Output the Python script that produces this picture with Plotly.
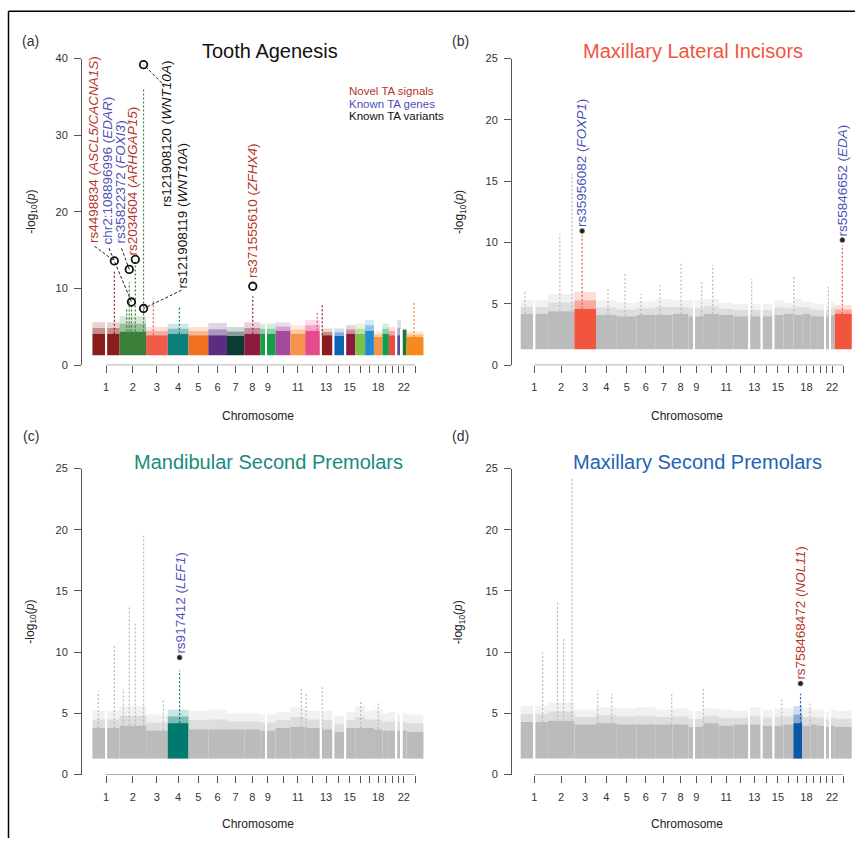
import plotly.graph_objects as go

W, H = 855, 844
FONT = "Liberation Sans, Arial, Helvetica, sans-serif"

# ---------------- data ----------------
chrom_names = [str(i) for i in range(1, 23)] + ["X"]
chrom_len_mb = [249, 243, 198, 191, 181, 171, 159, 146, 141, 136, 135, 134,
                115, 107, 103, 90, 81, 78, 59, 63, 48, 51, 155]
tick_text = ["1", "2", "3", "4", "5", "6", "7", "8", "9", " ", "11", " ", "13", " ",
             "15", " ", " ", "18", " ", " ", " ", "22", " "]

# panel (a) chromosome colours
colors_a = ["#8C1C1C", "#3A7F3A", "#F05A48", "#0E7F7C", "#F37021", "#5C2D7F",
            "#0A3B35", "#8E1A3D", "#15A048", "#A24A9E", "#F7924A", "#E6498C",
            "#8C1C1C", "#0D62B3", "#8C1A3A", "#7BC143", "#1E8AD2", "#F7924A",
            "#10A04A", "#EE4B3C", "#5D4B9F", "#1A7A3E", "#F58A1F"]
gray = "#BBBBBB"

# unplotted (empty) regions: chromosome, from Mb, to Mb
gap_chrom = ["1", "9", "13", "14", "15", "21", "22"]
gap_from_mb = [121, 47, 0, 0, 0, 0, 0]
gap_to_mb = [135, 60, 19, 19, 20, 14, 16]

# dense band top and sparse top (-log10 p) per chromosome
dense_a = [4.1, 4.4, 3.9, 4.1, 3.9, 3.9, 3.8, 4.1, 4.1, 4.5, 4.1, 4.5,
           3.9, 3.8, 4.1, 4.1, 4.5, 3.7, 4.1, 3.9, 3.9, 4.6, 3.7]
sparse_a = [5.6, 6.4, 5.0, 5.4, 5.0, 5.5, 5.0, 5.6, 5.4, 5.6, 5.2, 5.9,
            4.8, 4.8, 5.2, 5.4, 5.9, 4.4, 5.4, 5.0, 5.9, 4.8, 4.4]
dense_b = [4.2, 4.4, 4.6, 4.1, 4.0, 4.1, 4.1, 4.2, 4.0, 4.2, 4.1, 4.0,
           4.0, 4.0, 4.1, 4.2, 4.1, 4.2, 4.0, 4.0, 4.0, 4.1, 4.2]
sparse_b = [5.3, 5.8, 6.0, 5.3, 5.1, 5.2, 5.4, 5.3, 5.3, 5.4, 5.1, 5.0,
            5.0, 5.0, 5.3, 5.1, 5.4, 5.2, 5.1, 5.0, 5.0, 5.2, 4.9]
dense_c = [3.8, 4.0, 3.6, 4.2, 3.7, 3.7, 3.7, 3.7, 3.6, 3.8, 3.9, 3.8,
           3.7, 3.5, 3.8, 3.8, 3.8, 3.7, 3.6, 3.6, 3.6, 3.6, 3.5]
sparse_c = [5.2, 5.6, 4.9, 5.3, 5.2, 5.3, 5.0, 5.0, 4.9, 5.1, 5.5, 5.2,
            5.2, 4.8, 5.1, 5.6, 5.2, 5.3, 5.0, 5.1, 5.0, 5.0, 4.9]
dense_d = [4.3, 4.4, 4.1, 4.2, 4.1, 4.1, 4.1, 4.1, 3.9, 4.2, 4.0, 4.1,
           4.1, 4.0, 4.0, 4.1, 4.2, 4.0, 4.1, 4.0, 3.9, 4.0, 3.9]
sparse_d = [5.6, 5.9, 5.3, 5.5, 5.4, 5.5, 5.3, 5.4, 5.2, 5.4, 5.3, 5.2,
            5.5, 5.3, 5.4, 5.4, 5.6, 5.4, 5.3, 5.3, 5.1, 5.3, 5.2]

# highlighted chromosomes in (b)-(d)
hl_b, hl_b_color = ["3", "X"], "#F1553D"
hl_c, hl_c_color = ["4"], "#00796E"
hl_d, hl_d_color = ["17"], "#0B57A8"

# peak columns: chromosome, position (Mb), max -log10 p
peak_a_chr = ["1", "2", "2", "2", "2", "2", "3", "4", "8", "12", "13", "X"]
peak_a_pos = [201.0, 65, 88.7, 108.9, 144.0, 219.7, 66, 107, 77.6, 110, 22, 69]
peak_a_val = [12.3, 7.5, 10.8, 8.0, 13.5, 36.0, 8.7, 7.7, 9.0, 6.8, 8.0, 8.2]

peak_b_chr = ["1", "2", "2", "3", "4", "5", "6", "7", "8", "9", "10", "13", "17", "21", "X"]
peak_b_pos = [39, 109.5, 219.7, 71.0, 110, 75, 40, 44, 78, 121, 81, 33, 5, 40, 69.0]
peak_b_val = [6.1, 10.7, 15.6, 10.6, 6.3, 7.5, 5.8, 6.5, 8.3, 6.9, 8.2, 7.0, 7.3, 6.4, 9.8]

peak_c_chr = ["1", "1", "2", "2", "2", "2", "3", "4", "11", "12", "13", "16", "18"]
peak_c_pos = [54, 201, 34, 88.7, 144, 219.7, 158, 109.0, 100, 10, 22, 50, 40]
peak_c_val = [6.8, 10.6, 7.0, 13.7, 12.5, 19.5, 6.2, 8.5, 7.1, 6.6, 7.2, 6.1, 5.8]

peak_d_chr = ["1", "2", "2", "2", "4", "4", "7", "9", "15", "17", "18"]
peak_d_pos = [200, 88.7, 144, 219.7, 16, 144, 151, 136, 86, 65.7, 72]
peak_d_val = [10.0, 14.2, 11.1, 24.2, 6.9, 6.6, 6.6, 7.0, 6.1, 6.6, 5.9]

# labelled SNPs
snp_a_chr = ["1", "2", "2", "2", "2", "2", "8"]
snp_a_pos = [201.0, 108.9, 88.7, 144.0, 219.7, 219.7, 77.6]
snp_a_val = [13.6, 8.25, 12.5, 13.8, 39.2, 7.4, 10.3]
snp_a_id = ["rs4498834", "chr2:108896996", "rs35822372", "rs2034604",
            "rs121908120", "rs121908119", "rs371555610"]
snp_a_gene = ["ASCL5/CACNA1S", "EDAR", "FOXI3", "ARHGAP15", "WNT10A", "WNT10A", "ZFHX4"]
snp_a_kind = ["novel", "gene", "gene", "novel", "variant", "variant", "novel"]

snp_b_chr, snp_b_pos, snp_b_val = ["3", "X"], [71.0, 69.0], [10.95, 10.2]
snp_b_id, snp_b_gene, snp_b_kind = ["rs35956082", "rs55846652"], ["FOXP1", "EDA"], ["gene", "gene"]
snp_c_chr, snp_c_pos, snp_c_val = ["4"], [109.0], [9.56]
snp_c_id, snp_c_gene, snp_c_kind = ["rs917412"], ["LEF1"], ["gene"]
snp_d_chr, snp_d_pos, snp_d_val = ["17"], [65.7], [7.43]
snp_d_id, snp_d_gene, snp_d_kind = ["rs758468472"], ["NOL11"], ["novel"]

kind_color = {"novel": "#B3352B", "gene": "#5050B5", "variant": "#111111"}

# ---------------- geometry ----------------
chrom_start = []
_s = 0
for L in chrom_len_mb:
    chrom_start.append(_s)
    _s += L
chrom_mid = [st + L / 2 for st, L in zip(chrom_start, chrom_len_mb)]


def gpos(ch, mb):
    return chrom_start[chrom_names.index(ch)] + mb


# the captured page is vertically squeezed slightly; map wanted pixel rows to layout rows
def Y(py):
    return (py - 5.75) / 0.9858


MB_PX = 0.10911
panels = {
    "a": dict(xa="x", ya="y", pl=82, pr=424, px0=92.42, py0=365, pyt=58.3, ymax=40, yt=[0, 10, 20, 30, 40]),
    "b": dict(xa="x2", ya="y2", pl=512, pr=853, px0=520.7, py0=365, pyt=58.3, ymax=25, yt=[0, 5, 10, 15, 20, 25]),
    "c": dict(xa="x3", ya="y3", pl=82, pr=424, px0=92.42, py0=774.3, pyt=468.3, ymax=25, yt=[0, 5, 10, 15, 20, 25]),
    "d": dict(xa="x4", ya="y4", pl=512, pr=853, px0=520.7, py0=774.3, pyt=468.3, ymax=25, yt=[0, 5, 10, 15, 20, 25]),
}


def px2data(p, px, py):
    P = panels[p]
    return (px - P["px0"]) / MB_PX, (P["py0"] - py) / ((P["py0"] - P["pyt"]) / P["ymax"])


def rgba(hexc, a):
    h = hexc.lstrip("#")
    return f"rgba({int(h[0:2], 16)},{int(h[2:4], 16)},{int(h[4:6], 16)},{a})"


fig = go.Figure()
layout = dict(width=W, height=H, margin=dict(l=0, r=0, t=0, b=0), autosize=False,
              paper_bgcolor="white", plot_bgcolor="white", showlegend=False,
              barmode="overlay", font=dict(family=FONT, color="#333"))
annotations, shapes = [], []


def add_panel(p, colors, dense, sparse, pk_chr, pk_pos, pk_val):
    P = panels[p]
    xa, ya = P["xa"], P["ya"]
    mid = [(d + s) / 2 for d, s in zip(dense, sparse)]
    fig.add_trace(go.Bar(x=chrom_mid, width=chrom_len_mb, base=[1.3] * 23,
                         y=[d - 1.3 for d in dense], marker=dict(color=colors, line_width=0),
                         xaxis=xa, yaxis=ya, hoverinfo="skip"))
    fig.add_trace(go.Bar(x=chrom_mid, width=chrom_len_mb, base=dense,
                         y=[m - d for m, d in zip(mid, dense)],
                         marker=dict(color=[rgba(c, 0.5) for c in colors], line_width=0),
                         xaxis=xa, yaxis=ya, hoverinfo="skip"))
    fig.add_trace(go.Bar(x=chrom_mid, width=chrom_len_mb, base=mid,
                         y=[s - m for s, m in zip(sparse, mid)],
                         marker=dict(color=[rgba(c, 0.2) for c in colors], line_width=0),
                         xaxis=xa, yaxis=ya, hoverinfo="skip"))
    gx = [gpos(c, (a + b) / 2) for c, a, b in zip(gap_chrom, gap_from_mb, gap_to_mb)]
    gw = [b - a for a, b in zip(gap_from_mb, gap_to_mb)]
    gtop = [sparse[chrom_names.index(c)] for c in gap_chrom]
    fig.add_trace(go.Bar(x=gx, width=gw, base=[1.2] * len(gx), y=[t - 1.2 for t in gtop],
                         marker=dict(color="white", line_width=0),
                         xaxis=xa, yaxis=ya, hoverinfo="skip"))
    for c, pos, v in zip(pk_chr, pk_pos, pk_val):
        i = chrom_names.index(c)
        fig.add_trace(go.Scatter(x=[gpos(c, pos)] * 2, y=[dense[i], v], mode="lines",
                                 line=dict(color=colors[i], width=1.2, dash="2px,2px"),
                                 xaxis=xa, yaxis=ya, hoverinfo="skip"))
    layout["xaxis" + xa[1:]] = dict(
        domain=[P["pl"] / W, P["pr"] / W],
        range=[(P["pl"] - P["px0"]) / MB_PX, (P["pr"] - P["px0"]) / MB_PX],
        anchor=ya, showgrid=False, zeroline=False, showline=False,
        ticks="outside", ticklen=7, tickwidth=1, tickcolor="#555",
        tickvals=chrom_mid, ticktext=tick_text, tickangle=0,
        tickfont=dict(size=11, color="#333"), ticklabelstandoff=5)
    layout["yaxis" + ya[1:]] = dict(
        domain=[1 - Y(P["py0"]) / H, 1 - Y(P["pyt"]) / H], range=[0, P["ymax"]],
        anchor=xa, showgrid=False, zeroline=False, showline=True, linecolor="#555",
        linewidth=1, ticks="outside", ticklen=7, tickwidth=1, tickcolor="#555",
        tickvals=P["yt"], tickfont=dict(size=11, color="#333"), ticklabelstandoff=4)
    shapes.append(dict(type="line", xref=xa, yref=ya, x0=chrom_mid[0], x1=chrom_mid[-1],
                       y0=0, y1=0, line=dict(color="#555", width=1)))


def colors_for(hl, hc):
    return [hc if c in hl else gray for c in chrom_names]


add_panel("a", colors_a, dense_a, sparse_a, peak_a_chr, peak_a_pos, peak_a_val)
add_panel("b", colors_for(hl_b, hl_b_color), dense_b, sparse_b, peak_b_chr, peak_b_pos, peak_b_val)
add_panel("c", colors_for(hl_c, hl_c_color), dense_c, sparse_c, peak_c_chr, peak_c_pos, peak_c_val)
add_panel("d", colors_for(hl_d, hl_d_color), dense_d, sparse_d, peak_d_chr, peak_d_pos, peak_d_val)


def ann(text, px, py, size=11, color="#333", xanchor="center", yanchor="middle", angle=0):
    annotations.append(dict(text=text, x=px / W, y=1 - Y(py) / H, xref="paper", yref="paper",
                            showarrow=False, xanchor=xanchor, yanchor=yanchor, textangle=angle,
                            font=dict(size=size, color=color, family=FONT)))


# ---- panel (a) labelled SNPs with leader lines ----
lab_a = [(93.3, 245, "bottom"), (107.3, 246, "bottom"), (120.7, 245, "bottom"),
         (132.7, 257, "bottom"), (166.7, 59, "top"), (182.7, 290, "bottom"),
         (252.7, 280, "bottom")]
lead_a = [(94.5, 246), (109, 248), (121.5, 248), None, (161.7, 82.7), (181.5, 290), None]
for i in range(len(snp_a_id)):
    x = gpos(snp_a_chr[i], snp_a_pos[i])
    y = snp_a_val[i]
    if lead_a[i] is not None:
        lx, ly = px2data("a", *lead_a[i])
        fig.add_trace(go.Scatter(x=[lx, x], y=[ly, y], mode="lines",
                                 line=dict(color="#222", width=1, dash="3px,2px"),
                                 xaxis="x", yaxis="y", hoverinfo="skip"))
    px, py, ya_ = lab_a[i]
    ann(f"{snp_a_id[i]} (<i>{snp_a_gene[i]}</i>)", px, py, size=13.5,
        color=kind_color[snp_a_kind[i]], xanchor="center", yanchor=ya_, angle=-90)
fig.add_trace(go.Scatter(x=[gpos(c, p) for c, p in zip(snp_a_chr, snp_a_pos)], y=snp_a_val,
                         mode="markers", cliponaxis=False,
                         marker=dict(symbol="circle-open", size=7.5, color="#111",
                                     line=dict(width=1.8, color="#111")),
                         xaxis="x", yaxis="y", hoverinfo="skip"))

# ---- panels (b)-(d) labelled SNPs ----
for p, chs, poss, vals, ids, genes, kinds in [
    ("b", snp_b_chr, snp_b_pos, snp_b_val, snp_b_id, snp_b_gene, snp_b_kind),
    ("c", snp_c_chr, snp_c_pos, snp_c_val, snp_c_id, snp_c_gene, snp_c_kind),
    ("d", snp_d_chr, snp_d_pos, snp_d_val, snp_d_id, snp_d_gene, snp_d_kind),
]:
    P = panels[p]
    xs = [gpos(c, q) for c, q in zip(chs, poss)]
    fig.add_trace(go.Scatter(x=xs, y=vals, mode="markers", cliponaxis=False,
                             marker=dict(symbol="circle", size=5, color="#222",
                                         line=dict(width=0.6, color="#777")),
                             xaxis=P["xa"], yaxis=P["ya"], hoverinfo="skip"))
    for x, v, i_, g, k in zip(xs, vals, ids, genes, kinds):
        annotations.append(dict(text=f"{i_} (<i>{g}</i>)", x=x, y=v, xref=P["xa"], yref=P["ya"],
                                showarrow=False, xanchor="center", yanchor="bottom",
                                textangle=-90, yshift=2,
                                font=dict(size=13.5, color=kind_color[k], family=FONT)))

# ---- titles, panel letters, axis titles ----
ann("Tooth Agenesis", 269.5, 50.5, size=20, color="#111")
ann("Maxillary Lateral Incisors", 693, 50.5, size=20, color="#F1553D")
ann("Mandibular Second Premolars", 268.5, 461.5, size=20, color="#1A8A7E")
ann("Maxillary Second Premolars", 697, 461.5, size=20, color="#1F63B5")
for t, px, py in [("(a)", 30.5, 40.5), ("(b)", 460, 40.5), ("(c)", 30.5, 436), ("(d)", 460, 436)]:
    ann(t, px, py, size=14, color="#333")
for px, py in [(257.7, 416), (686.7, 416), (257.7, 824), (686.7, 824)]:
    ann("Chromosome", px, py, size=12, color="#222")
for px, py in [(31.7, 211.7), (460, 211.7), (30.7, 621.7), (459.3, 621.7)]:
    ann("-log<sub>10</sub>(<i>p</i>)", px, py, size=12, color="#222", angle=-90)

# legend of panel (a)
ann("Novel TA signals", 347, 91, size=11.5, color=kind_color["novel"], xanchor="left")
ann("Known TA genes", 347, 103.3, size=11.5, color=kind_color["gene"], xanchor="left")
ann("Known TA variants", 347, 115.5, size=11.5, color=kind_color["variant"], xanchor="left")

# outer frame (cropped box)
shapes.append(dict(type="line", xref="paper", yref="paper", x0=8.5 / W, x1=8.5 / W,
                   y0=0, y1=1 - Y(11) / H, line=dict(color="black", width=1.5)))
shapes.append(dict(type="line", xref="paper", yref="paper", x0=8.5 / W, x1=1,
                   y0=1 - Y(11) / H, y1=1 - Y(11) / H, line=dict(color="black", width=1.5)))

layout["annotations"] = annotations
layout["shapes"] = shapes
fig.update_layout(**layout)
fig.write_html(
    "out.html",
    config={"displayModeBar": False, "responsive": False},
    post_script=(
        "document.documentElement.style.margin='0';"
        "document.documentElement.style.overflow='hidden';"
        "document.body.style.margin='0';document.body.style.padding='0';"
        "document.body.style.overflow='hidden';"
        "var g=document.getElementsByClassName('plotly-graph-div')[0];"
        "g.style.position='fixed';g.style.left='0px';g.style.top='0px';"
    ),
)
